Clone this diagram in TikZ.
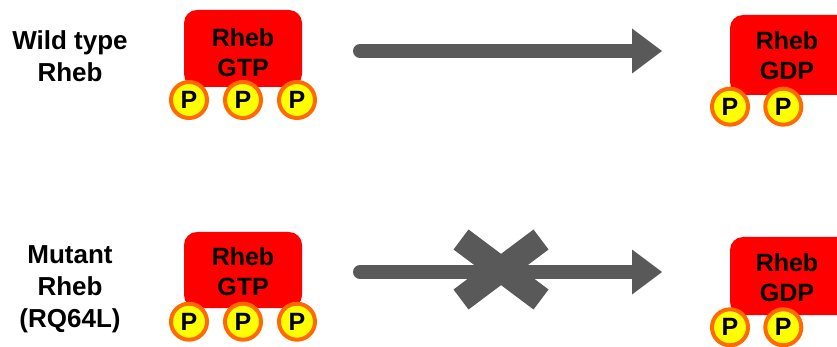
\documentclass[tikz,border=0pt]{standalone}
\usepackage{fontspec}
\setmainfont{Liberation Sans}
\usetikzlibrary{arrows.meta}
\definecolor{rhebred}{HTML}{FF0000}
\definecolor{pyellow}{HTML}{FFFF00}
\definecolor{porange}{HTML}{FF6A00}
\definecolor{arrowgray}{HTML}{595959}
\begin{document}
\begin{tikzpicture}[x=1pt,y=-1pt,
  every node/.style={font=\fontsize{25}{30}\selectfont\bfseries, inner sep=0pt, outer sep=0pt},
  rhebbox/.style={fill=rhebred, rounded corners=13pt},
  boxtext/.style={align=center, text=black},
  sidelabel/.style={align=center, font=\fontsize{26}{32}\selectfont\bfseries},
  phos/.style={circle, draw=porange, line width=4pt, fill=pyellow, minimum size=36pt},
  flow/.style={draw=arrowgray, line width=14pt, line cap=round,
    -{Triangle[length=30pt,width=45pt,line width=0pt]}},
  block/.style={draw=arrowgray, line width=25pt, line cap=butt}
]
\useasboundingbox (0,0) rectangle (837,347);
\clip (0,0) rectangle (837,347);

% row labels
\node[sidelabel] (wtlabel) at (70,56) {Wild type\\Rheb};
\node[sidelabel] (mutlabel) at (70,289.7) {Mutant\\Rheb\\(RQ64L)};

% wild type: Rheb-GTP
\fill[rhebbox] (184,10) rectangle (302,87);
\node[boxtext] (wtgtp) at (243,52.5) {Rheb\\GTP};
\node[phos] (wtp1) at (189,100) {P};
\node[phos] (wtp2) at (243,100) {P};
\node[phos] (wtp3) at (297,100) {P};

% wild type: Rheb-GDP
\fill[rhebbox] (730,15) rectangle (850,95);
\node[boxtext] (wtgdp) at (787,56) {Rheb\\GDP};
\node[phos] (wtq1) at (730,106.7) {P};
\node[phos] (wtq2) at (783.3,106.7) {P};

% wild type hydrolysis arrow
\coordinate (wtstart) at (360,51);
\coordinate (wtend) at (662,51);
\draw[flow] (wtstart) -- (wtend);

% mutant: Rheb-GTP
\fill[rhebbox] (184,232) rectangle (302,308);
\node[boxtext] (mugtp) at (243,272) {Rheb\\GTP};
\node[phos] (mup1) at (189,321.7) {P};
\node[phos] (mup2) at (243,321.7) {P};
\node[phos] (mup3) at (297,321.7) {P};

% mutant: Rheb-GDP
\fill[rhebbox] (730,237) rectangle (850,315);
\node[boxtext] (mugdp) at (787,277.5) {Rheb\\GDP};
\node[phos] (muq1) at (730,327.3) {P};
\node[phos] (muq2) at (783.3,327.3) {P};

% mutant arrow, blocked
\coordinate (mustart) at (360,272);
\coordinate (muend) at (662,272);
\draw[flow] (mustart) -- (muend);
\coordinate (cross) at (501,269.5);
\draw[block] ([shift={(-40,-30)}]cross) -- ([shift={(40,30)}]cross);
\draw[block] ([shift={(40,-30)}]cross) -- ([shift={(-40,30)}]cross);
\end{tikzpicture}
\end{document}
